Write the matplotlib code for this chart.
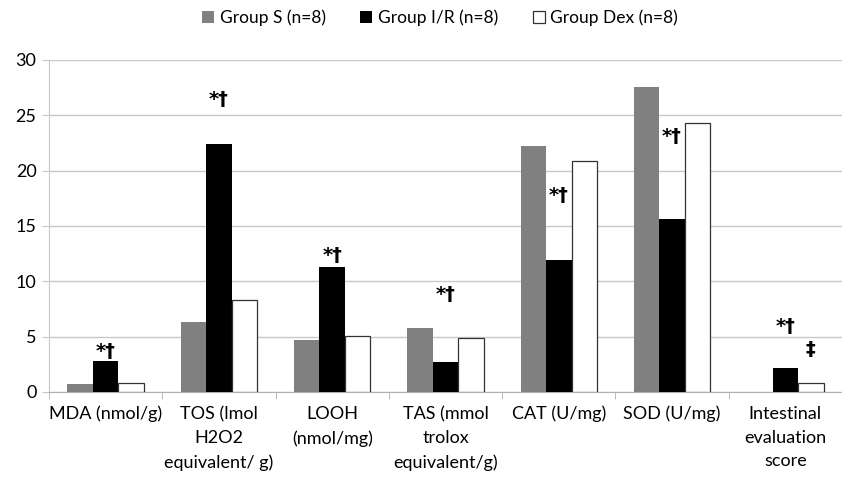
import numpy as np
import matplotlib
matplotlib.use('Agg')
import matplotlib.pyplot as plt

plt.rcParams['font.family'] = ['Lato', 'DejaVu Sans']

categories = ["MDA (nmol/g)", "TOS (lmol\nH2O2\nequivalent/ g)", "LOOH\n(nmol/mg)",
              "TAS (mmol\ntrolox\nequivalent/g)", "CAT (U/mg)", "SOD (U/mg)",
              "Intestinal\nevaluation\nscore"]
group_s = [0.7, 6.3, 4.7, 5.8, 22.2, 27.6, 0.0]
group_ir = [2.8, 22.4, 11.3, 2.7, 11.9, 15.6, 2.15]
group_dex = [0.8, 8.3, 5.1, 4.9, 20.9, 24.3, 0.8]
series_names = ["Group S (n=8)", "Group I/R (n=8)", "Group Dex (n=8)"]

# significance marks: (category index, series offset, y position, text)
marks = [(0, 0, 3.7, "*†"), (1, 0, 26.4, "*†"), (2, 0, 12.3, "*†"),
         (3, 0, 8.8, "*†"), (4, 0, 17.8, "*†"), (5, 0, 23.1, "*†"),
         (6, 0, 5.9, "*†"), (6, 1, 3.8, "‡")]

fig = plt.figure(figsize=(8.42, 4.83), dpi=100)
ax = fig.add_axes([49/842, 1 - 392/483, 1 - 49/842, (392 - 60)/483])

x = np.arange(len(categories))
w = 0.225
b1 = ax.bar(x - w, group_s, w, color='#808080', label=series_names[0], zorder=3)
b2 = ax.bar(x, group_ir, w, color='black', label=series_names[1], zorder=3)
b3 = ax.bar(x + w, group_dex, w, color='white', edgecolor='#333333', linewidth=0.9,
            label=series_names[2], zorder=3)

for i, off, yv, t in marks:
    ax.text(x[i] + off * w, yv, t, ha='center', va='center', fontsize=14,
            fontweight='bold', family='DejaVu Sans', zorder=4)

ax.set_ylim(0, 30)
ax.set_xlim(-0.5, -0.5 + (842 - 49) / 115.5)
ax.set_yticks(range(0, 31, 5))
ax.yaxis.grid(True, color='#c8c8c8', linewidth=1)
ax.set_axisbelow(True)

ax.set_xticks(x)
ax.set_xticklabels(categories, fontsize=13, linespacing=1.6)
ax.tick_params(axis='x', length=0, pad=10)
ax.set_xticks(np.arange(-0.5, len(categories), 1), minor=True)
ax.tick_params(axis='x', which='minor', length=5, color='#b0b0b0')
ax.tick_params(axis='y', length=5, color='#c8c8c8', labelsize=13, pad=4)

for s in ['top', 'right']:
    ax.spines[s].set_visible(False)
ax.spines['left'].set_color('#c8c8c8')
ax.spines['bottom'].set_color('#b0b0b0')

fig.legend(handles=[b1, b2, b3], loc='center', bbox_to_anchor=(440/842, 1 - 18/483),
           ncol=3, frameon=False, fontsize=12.5, handlelength=0.7, handleheight=0.7,
           handletextpad=0.3, columnspacing=2.0)

fig.savefig('out.png', dpi=100)
